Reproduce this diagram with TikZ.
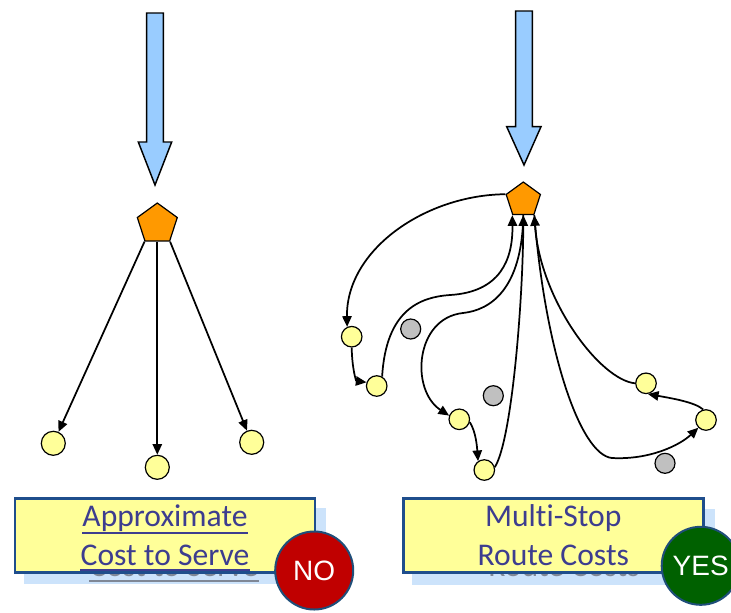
\documentclass[tikz,border=0pt]{standalone}
\usepackage{fontspec}
\setmainfont{Carlito}[Ligatures=NoCommon]
\newfontfamily\badgefont{Liberation Sans}
\usetikzlibrary{arrows.meta,shapes.geometric}

\definecolor{flowblue}{HTML}{99CCFF}
\definecolor{depotorange}{HTML}{FF9900}
\definecolor{stopyellow}{HTML}{FFFF99}
\definecolor{skipgrey}{HTML}{C0C0C0}
\definecolor{boxborder}{HTML}{1F4E8C}
\definecolor{boxshadow}{HTML}{CCE3FB}
\definecolor{labeltext}{HTML}{3D3D8F}
\definecolor{ghosttext}{HTML}{7F8796}
\definecolor{badgered}{HTML}{C00000}
\definecolor{badgegreen}{HTML}{006100}
\definecolor{badgeedge}{HTML}{1F4E79}

\tikzset{
  flowarrow/.style={fill=flowblue,draw=black,line width=1.1pt,line join=miter},
  depot/.style={regular polygon,regular polygon sides=5,fill=depotorange,
    draw=black,line width=0.9pt,inner sep=0pt},
  stopbig/.style={circle,fill=stopyellow,draw=black,line width=0.9pt,
    minimum size=18pt,inner sep=0pt},
  stop/.style={circle,fill=stopyellow,draw=black,line width=0.9pt,
    minimum size=15.4pt,inner sep=0pt},
  skipped/.style={circle,fill=skipgrey,draw=black,line width=0.9pt,
    minimum size=15pt,inner sep=0pt},
  conn/.style={draw=black,line width=1.3pt,-{Triangle[length=8pt,width=7pt]}},
  shadowbox/.style={fill=boxshadow,draw=none,minimum width=227pt,
    minimum height=57pt,inner sep=0pt},
  labelbox/.style={fill=stopyellow,draw=boxborder,line width=2.2pt,
    minimum width=225pt,minimum height=55.8pt,inner sep=0pt},
  labeltxt/.style={text=labeltext,font=\fontsize{23.7}{28}\selectfont,
    inner sep=0pt,anchor=base},
  ghosttxt/.style={text=ghosttext,font=\fontsize{23.7}{28}\selectfont,
    inner sep=0pt,anchor=base},
  badge/.style={circle,draw=badgeedge,line width=1.5pt,minimum size=58.5pt,
    inner sep=0pt,text=white,font=\badgefont\fontsize{21}{24}\selectfont},
}

\begin{document}
\begin{tikzpicture}[x=0.75pt,y=-0.75pt]
\useasboundingbox (0,0) rectangle (731,612);
\clip (0,0) rectangle (731,612);

% ---------- incoming flow arrows ----------
\draw[flowarrow] (146.7,13) -- (163.3,13) -- (163.3,142) -- (171.7,142)
  -- (155,185) -- (138.3,142) -- (146.7,142) -- cycle;
\draw[flowarrow] (515.7,11) -- (532.3,11) -- (532.3,126.7) -- (541,126.7)
  -- (524,165) -- (506.7,126.7) -- (515.7,126.7) -- cycle;

% ---------- left: direct deliveries ----------
\node[depot,minimum size=31.5pt] (dl) at (157.3,224) {};
\node[stopbig] (l1) at (53.3,443.3) {};
\node[stopbig] (l2) at (157.3,467.3) {};
\node[stopbig] (l3) at (251.7,442.3) {};
\draw[conn] (dl.corner 3) -- (l1);
\draw[conn] (dl.south) -- (l2);
\draw[conn] (dl.corner 4) -- (l3);

% ---------- right: multi-stop routes ----------
\node[depot,minimum size=27pt] (dr) at (523.3,200) {};
\node[stop] (a) at (351.7,336.7) {};
\node[stop] (b) at (376.7,386) {};
\node[stop] (c) at (459.3,419.3) {};
\node[stop] (d) at (484.3,470) {};
\node[stop] (e) at (646,383.3) {};
\node[stop] (f) at (706,420) {};
\node[skipped] (g1) at (410.7,329) {};
\node[skipped] (g2) at (493.3,395.7) {};
\node[skipped] (g3) at (665,463.3) {};

% route 1: depot -> a -> b -> depot
\draw[conn] (dr.corner 2) .. controls (425,195) and (346,250) .. (a.115);
\draw[conn] (a.south) .. controls (352,368) and (356,381) .. (b.160);
\draw[conn] (b.60) .. controls (386,310) and (420,297) .. (450,295)
  .. controls (500,292) and (513,260) .. (dr.corner 3);

% route 2: depot -> c -> d -> depot
\draw[conn] (dr.south) .. controls (522,290) and (490,310) .. (463,313)
  .. controls (415,318) and (410,390) .. (c.160);
\draw[conn] (c.-15) .. controls (476,432) and (477,447) .. (d.125);
\draw[conn] (d.15) .. controls (512,440) and (523,300) .. (dr.south);

% route 3: depot -> f -> e -> depot
\draw[conn] (dr.corner 4) .. controls (545,350) and (580,455) .. (612,458)
  .. controls (650,460) and (680,445) .. (f.225);
\draw[conn] (f.105) .. controls (695,402) and (670,398) .. (e.-80);
\draw[conn] (e.west) .. controls (600,380) and (540,300) .. (dr.corner 4);

% ---------- left label ----------
\node[shadowbox] (ls) at (175,546.2) {};
\node[ghosttxt] (lg) at (174,576) {Cost to Serve};
\draw[ghosttext,line width=1.5pt] ([yshift=-4pt]lg.base west) -- ([yshift=-4pt]lg.base east);
\node[labelbox] (lb) at (165,535.5) {};
\node[labeltxt] (lt1) at (165,526) {Approximate};
\node[labeltxt] (lt2) at (165,565) {Cost to Serve};
\draw[labeltext,line width=1.3pt] ([yshift=-5pt]lt1.base west) -- ([yshift=-5pt]lt1.base east);
\draw[labeltext,line width=1.3pt] ([yshift=-4pt]lt2.base west) -- ([yshift=-4pt]lt2.base east);
\node[badge,fill=badgered] (no) at (314.2,570.5) {NO};

% ---------- right label ----------
\node[shadowbox] (rs) at (563.8,546.6) {};
\node[ghosttxt] (rg) at (564,576) {Route Costs};
\node[labelbox] (rb) at (553.3,535.5) {};
\node[labeltxt] (rt1) at (553.3,526) {Multi-Stop};
\node[labeltxt] (rt2) at (553.3,565) {Route Costs};
\node[badge,fill=badgegreen] (yes) at (700.7,565.8) {YES};
\end{tikzpicture}
\end{document}
